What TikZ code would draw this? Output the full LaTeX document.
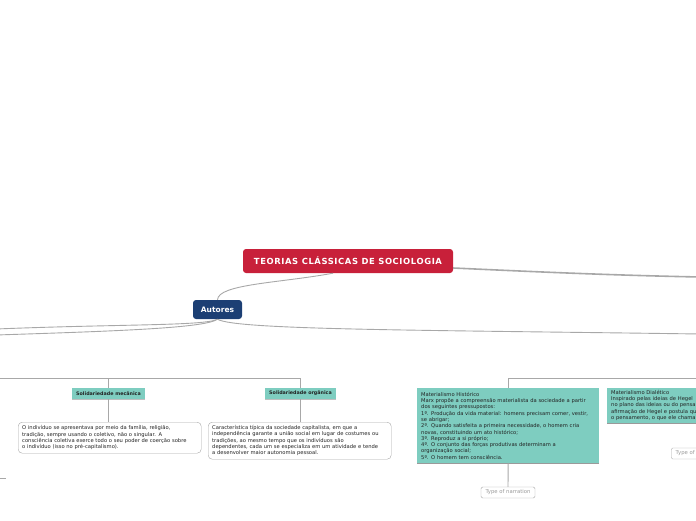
\documentclass[tikz,border=0pt]{standalone}
\usepackage{fontspec}
\setmainfont{DejaVu Sans}
\usepackage{xcolor}
\definecolor{vizRed}{HTML}{C8203A}
\definecolor{vizBlue}{HTML}{1C3F74}
\definecolor{vizTeal}{HTML}{7ECDC0}
\definecolor{vizLine}{HTML}{A8A8A8}
\definecolor{vizInk}{HTML}{222222}
\definecolor{vizGrey}{HTML}{9A9A9A}

\begin{document}
\begin{tikzpicture}[x=1pt, y=-1pt,
  rootbox/.style={fill=vizRed, rounded corners=3pt, text=white, inner sep=0pt,
    font=\bfseries\fontsize{8.4}{9}\selectfont\addfontfeatures{LetterSpace=7},
    minimum width=210pt, minimum height=24pt},
  authbox/.style={fill=vizBlue, rounded corners=3pt, text=white, inner sep=0pt,
    font=\bfseries\fontsize{7.5}{9}\selectfont, minimum width=49pt, minimum height=19pt},
  tagbox/.style={fill=vizTeal, text=vizInk, inner sep=0pt,
    preaction={fill=black!25, transform canvas={yshift=-0.7pt}},
    font=\bfseries\fontsize{4.8}{5}\selectfont, minimum height=11pt},
  notebox/.style={draw=vizLine, fill=white, rounded corners=4pt, anchor=north west,
    text=vizInk, align=left, inner xsep=4pt, inner ysep=2pt, text width=175pt,
    font=\fontsize{5.2}{6.3}\selectfont},
  conceptbox/.style={fill=vizTeal, anchor=north west, text=vizInk, align=left,
    preaction={fill=vizGrey, transform canvas={yshift=-1pt}},
    inner xsep=4pt, inner ysep=2pt, text width=174pt,
    font=\fontsize{5.2}{6.3}\selectfont},
  typebox/.style={draw=vizLine, fill=white, rounded corners=1.5pt, text=vizGrey,
    inner sep=0pt, minimum width=54pt, minimum height=11pt,
    font=\fontsize{5.3}{6}\selectfont},
  bigline/.style={draw=vizLine, line width=1.6pt},
  thinline/.style={draw=vizLine, line width=0.9pt}
]
  \useasboundingbox (0,0) rectangle (696,520);

  % main nodes
  \node[rootbox] (teorias) at (348,261) {TEORIAS CLÁSSICAS DE SOCIOLOGIA};
  \node[authbox] (autores) at (217.5,309.5) {Autores};

  % solidariedade
  \node[tagbox, minimum width=73pt] (mecanica) at (108.5,393.5) {Solidariedade mecânica};
  \node[tagbox, minimum width=71pt] (organica) at (300.5,393.5) {Solidariedade orgânica};
  \node[notebox, minimum height=31pt] (mecTxt) at (18,422)
    {O indivíduo se apresentava por meio da família, religião,\\
     tradição, sempre usando o coletivo, não o singular. A\\
     consciência coletiva exerce todo o seu poder de coerção sobre\\
     o indivíduo (isso no pré-capitalismo).};
  \node[notebox, minimum height=37pt] (orgTxt) at (208,422)
    {Característica típica da sociedade capitalista, em que a\\
     independência garante a união social em lugar de costumes ou\\
     tradições, ao mesmo tempo que os indivíduos são\\
     dependentes, cada um se especializa em um atividade e tende\\
     a desenvolver maior autonomia pessoal.};

  % materialismo
  \node[conceptbox, minimum height=75pt] (historico) at (417,388)
    {Materialismo Histórico\\
     Marx propõe a compreensão materialista da sociedade a partir\\
     dos seguintes pressupostos:\\
     1º. Produção da vida material: homens precisam comer, vestir,\\
     se abrigar;\\
     2º. Quando satisfeita a primeira necessidade, o homem cria\\
     novas, constituindo um ato histórico;\\
     3º. Reproduz a si próprio;\\
     4º. O conjunto das forças produtivas determinam a\\
     organização social;\\
     5º. O homem tem consciência.};
  \node[conceptbox, minimum height=26pt] (dialetico) at (607,388)
    {Materialismo Dialético\\
     Inspirado pelas ideias de Hegel\\
     no plano das ideias ou do pensamento\\
     afirmação de Hegel e postula que\\
     o pensamento, o que ele chama};
  \node[typebox] (histType) at (508,492.5) {Type of narration};
  \node[typebox, anchor=west] (dialType) at (671,453.5) {Type of narration};

  % free ends off the page
  \coordinate (rightA) at (700,277);
  \coordinate (leftA) at (-4,329);
  \coordinate (leftB) at (-4,335);
  \coordinate (rightB) at (700,334);
  \coordinate (leftTree) at (-4,378);
  \coordinate (rightTree) at (700,378);
  \coordinate (stubA) at (-4,478);
  \coordinate (stubB) at (6,478);

  % connectors
  \draw[bigline] ([yshift=-7pt]teorias.east) .. controls (520,271) and (600,275) .. (rightA);
  \draw[thinline] ([xshift=-15pt]teorias.south) .. controls (280,283) and (218,284) .. (autores.north);
  \draw[thinline] (autores.south) .. controls (205,326) and (120,324) .. (leftA);
  \draw[thinline] (autores.south) .. controls (205,328) and (120,331) .. (leftB);
  \draw[thinline] (autores.south) .. controls (235,330) and (420,330) .. (rightB);
  \draw[thinline] (leftTree) -| (organica.north);
  \draw[thinline] (leftTree) -| (mecanica.north);
  \draw[thinline] (rightTree) -| (historico.north);
  \draw[thinline] (mecanica.south) -- (mecanica.south |- mecTxt.north);
  \draw[thinline] (organica.south) -- (organica.south |- orgTxt.north);
  \draw[thinline] (historico.south) -- (histType.north);
  \draw[thinline] (stubA) -- (stubB);
\end{tikzpicture}
\end{document}
